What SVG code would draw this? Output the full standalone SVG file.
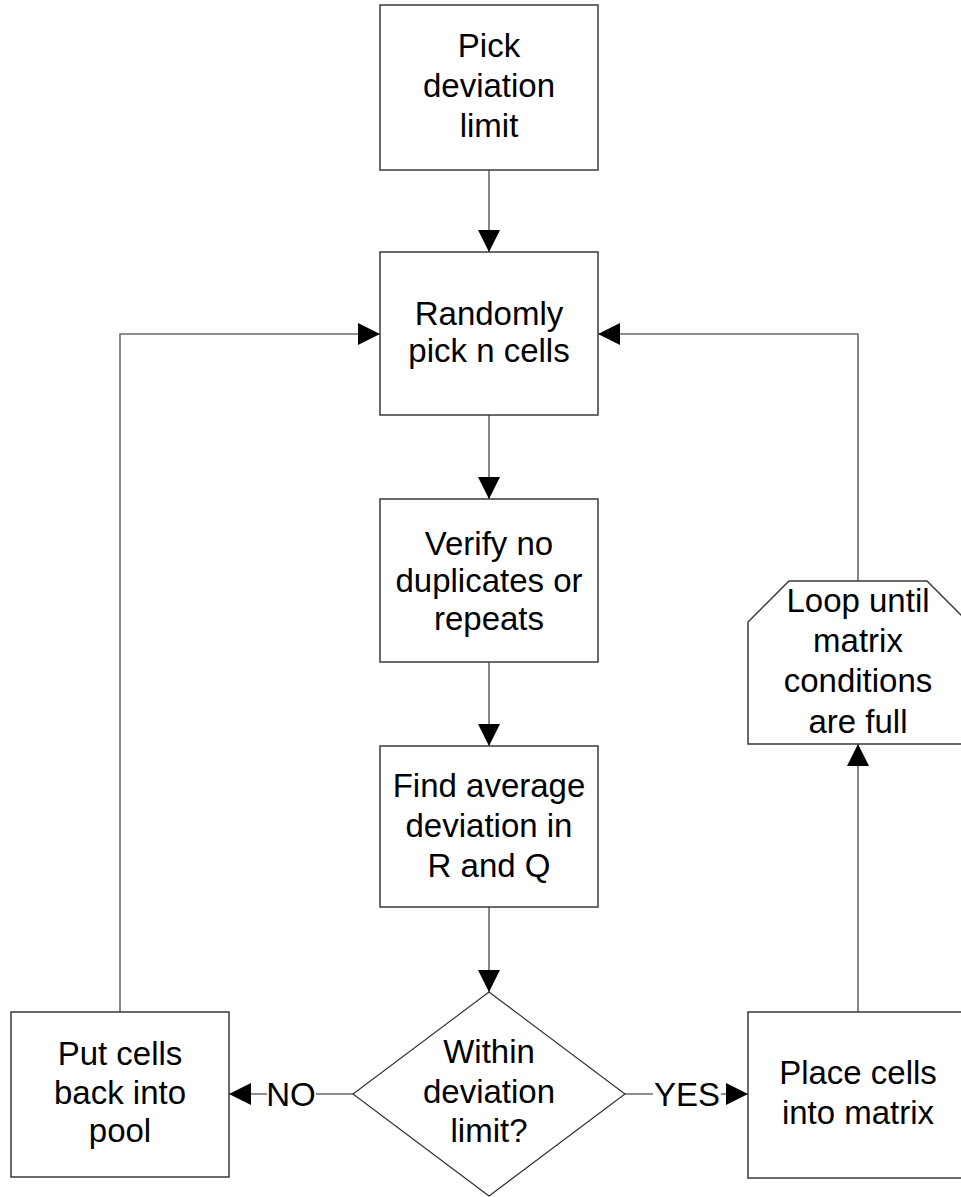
<svg xmlns="http://www.w3.org/2000/svg" width="961" height="1197" viewBox="0 0 961 1197">
<defs>
<marker id="arr" markerWidth="22" markerHeight="22" refX="22" refY="11" orient="auto" markerUnits="userSpaceOnUse">
<path d="M0,0 L22,11 L0,22 z" fill="#000"/>
</marker>
<style>
.box{fill:#fff;stroke:#3a3a3a;stroke-width:1.5}
.dia{fill:#fff;stroke:#2a2a2a;stroke-width:1.1}
.con{fill:none;stroke:#6a6a6a;stroke-width:1.6}
.t{font-family:"Liberation Sans",Arial,sans-serif;font-size:33px;fill:#000;text-anchor:middle}
.lbl{fill:#fff;stroke:none}
</style>
</defs>
<rect width="961" height="1197" fill="#fff"/>
<g id="connectors">
<line class="con" x1="489" y1="170" x2="489" y2="252" marker-end="url(#arr)"/>
<line class="con" x1="489" y1="415" x2="489" y2="499" marker-end="url(#arr)"/>
<line class="con" x1="489" y1="662" x2="489" y2="746" marker-end="url(#arr)"/>
<line class="con" x1="489" y1="907" x2="489" y2="992" marker-end="url(#arr)"/>
<polyline class="con" points="120,1012 120,334 380,334" marker-end="url(#arr)"/>
<polyline class="con" points="858,581 858,334 598,334" marker-end="url(#arr)"/>
<line class="con" x1="858" y1="1012" x2="858" y2="744" marker-end="url(#arr)"/>
<line class="con" x1="353" y1="1094" x2="229" y2="1094" marker-end="url(#arr)"/>
<line class="con" x1="625" y1="1094" x2="748" y2="1094" marker-end="url(#arr)"/>
<rect class="lbl" x="267" y="1078" width="49" height="32"/>
<text class="t" x="291" y="1106">NO</text>
<rect class="lbl" x="653" y="1078" width="68" height="32"/>
<text class="t" x="687" y="1106">YES</text>
</g>
<g id="pick-limit">
<rect class="box" x="380" y="5" width="218" height="165"/>
<text class="t" x="489" y="57">Pick</text>
<text class="t" x="489" y="97">deviation</text>
<text class="t" x="489" y="137">limit</text>
</g>
<g id="random-pick">
<rect class="box" x="380" y="252" width="218" height="163"/>
<text class="t" x="489" y="325">Randomly</text>
<text class="t" x="489" y="362">pick n cells</text>
</g>
<g id="verify">
<rect class="box" x="380" y="499" width="218" height="163"/>
<text class="t" x="489" y="555">Verify no</text>
<text class="t" x="489" y="592">duplicates or</text>
<text class="t" x="489" y="630">repeats</text>
</g>
<g id="find-average">
<rect class="box" x="380" y="746" width="218" height="161"/>
<text class="t" x="489" y="797">Find average</text>
<text class="t" x="489" y="837">deviation in</text>
<text class="t" x="489" y="877">R and Q</text>
</g>
<g id="decision">
<polygon class="dia" points="489,992 625,1094 489,1196 353,1094"/>
<text class="t" x="489" y="1063">Within</text>
<text class="t" x="489" y="1103">deviation</text>
<text class="t" x="489" y="1142">limit?</text>
</g>
<g id="put-back">
<rect class="box" x="11" y="1012" width="218" height="165"/>
<text class="t" x="120" y="1065">Put cells</text>
<text class="t" x="120" y="1104">back into</text>
<text class="t" x="120" y="1142">pool</text>
</g>
<g id="place-cells">
<rect class="box" x="748" y="1012" width="220" height="166"/>
<text class="t" x="858" y="1084">Place cells</text>
<text class="t" x="858" y="1124">into matrix</text>
</g>
<g id="loop">
<polygon class="box" points="789,581 927,581 968,622 968,744 748,744 748,622"/>
<text class="t" x="858" y="612">Loop until</text>
<text class="t" x="858" y="652">matrix</text>
<text class="t" x="858" y="692">conditions</text>
<text class="t" x="858" y="733">are full</text>
</g>
</svg>
